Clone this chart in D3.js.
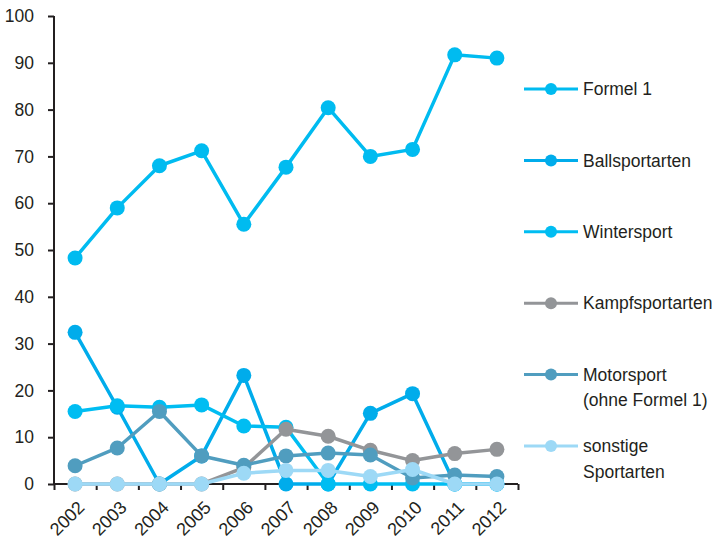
<!DOCTYPE html>
<html>
<head>
<meta charset="utf-8">
<script src="https://cdn.jsdelivr.net/npm/d3@7"></script>
<style>
  body { margin: 0; background: #fff; }
  text { font-family: "Liberation Sans", Arial, sans-serif; fill: #231f20; }
  .axis path, .axis line { stroke: #231f20; stroke-width: 2; }
  .axis text { font-size: 17.5px; }
</style>
</head>
<body>
<div id="chart"></div>
<script>
const years = ['2002', '2003', '2004', '2005', '2006', '2007', '2008', '2009', '2010', '2011', '2012'];
const yTicks = [0, 10, 20, 30, 40, 50, 60, 70, 80, 90, 100];

const seriesNames = ['Formel 1', 'Ballsportarten', 'Wintersport', 'Kampfsportarten', 'Motorsport (ohne Formel 1)', 'sonstige Sportarten'];
const legendLines = [['Formel 1'], ['Ballsportarten'], ['Wintersport'], ['Kampfsportarten'], ['Motorsport', '(ohne Formel 1)'], ['sonstige', 'Sportarten']];
const seriesColors = ['#00bbf0', '#00aceb', '#00bdf2', '#939598', '#509dbf', '#9dd9f6'];

const formel1 = [48.3, 59.0, 68.0, 71.2, 55.5, 67.7, 80.4, 70.0, 71.5, 91.7, 91.0];
const ballsport = [32.4, 16.4, 0, 6.0, 23.2, 0, 0, 15.1, 19.3, 0, 0];
const wintersport = [15.5, 16.7, 16.4, 16.9, 12.4, 12.1, 0, 0, 0, 0, 0];
const kampfsport = [0, 0, 0, 0, 3.5, 11.7, 10.2, 7.2, 5.0, 6.5, 7.4];
const motorsport = [3.9, 7.7, 15.5, 6.0, 4.0, 6.0, 6.6, 6.2, 1.3, 1.9, 1.6];
const sonstige = [0, 0, 0, 0, 2.3, 2.9, 2.9, 1.6, 3.1, 0, 0];

const allValues = [formel1, ballsport, wintersport, kampfsport, motorsport, sonstige];

const width = 714, height = 542;
const margin = { top: 16, right: 196, bottom: 58, left: 54 };

const svg = d3.select('#chart').append('svg')
  .attr('width', width)
  .attr('height', height);

const x = d3.scaleBand().domain(years).range([margin.left, width - margin.right]);
const y = d3.scaleLinear().domain([0, 100]).range([height - margin.bottom, margin.top]);
const cx = (d) => x(d) + x.bandwidth() / 2;

// y axis
svg.append('g')
  .attr('class', 'axis y')
  .attr('transform', `translate(${margin.left},0)`)
  .call(d3.axisLeft(y).tickValues(yTicks).tickSize(6).tickPadding(14))
  .call((g) => g.select('.domain').attr('d', `M0,${y(100)}V${y(0)}`));

// x axis: ticks sit on the band edges
const edges = d3.scaleLinear().domain([0, years.length]).range(x.range());
const xAxis = svg.append('g')
  .attr('class', 'axis x')
  .attr('transform', `translate(0,${y(0)})`)
  .call(d3.axisBottom(edges).tickValues(d3.range(years.length + 1)).tickSize(6).tickFormat(''))
  .call((g) => g.select('.domain').attr('d', `M${x.range()[0]},0H${x.range()[1]}`));

xAxis.selectAll('text.year')
  .data(years)
  .join('text')
  .attr('class', 'year')
  .attr('text-anchor', 'end')
  .style('font-size', '18px')
  .attr('transform', (d) => `translate(${cx(d) + 1},${15}) rotate(-45)`)
  .attr('dy', '0.75em')
  .text((d) => d);

const line = d3.line()
  .x((d, i) => cx(years[i]))
  .y((d) => y(d));

const series = seriesNames.map((name, i) => ({ name, values: allValues[i], color: seriesColors[i] }));

const groups = svg.selectAll('g.series')
  .data(series)
  .join('g')
  .attr('class', 'series');

groups.append('path')
  .attr('fill', 'none')
  .attr('stroke', (d) => d.color)
  .attr('stroke-width', 3.5)
  .attr('stroke-linejoin', 'round')
  .attr('d', (d) => line(d.values));

groups.selectAll('circle')
  .data((d) => d.values.map((v, i) => ({ v, i, color: d.color })))
  .join('circle')
  .attr('cx', (d) => cx(years[d.i]))
  .attr('cy', (d) => y(d.v))
  .attr('r', 7.5)
  .attr('fill', (d) => d.color);

// legend
const legend = svg.append('g').attr('transform', 'translate(524,89)');
const rows = legend.selectAll('g.row')
  .data(series)
  .join('g')
  .attr('class', 'row')
  .attr('transform', (d, i) => `translate(0,${i * 71.4})`);

rows.append('line')
  .attr('x1', 0).attr('x2', 54)
  .attr('stroke', (d) => d.color)
  .attr('stroke-width', 3);

rows.append('circle')
  .attr('cx', 27)
  .attr('r', 6)
  .attr('fill', (d) => d.color);

rows.append('text')
  .attr('x', 59)
  .style('font-size', '17.5px')
  .selectAll('tspan')
  .data((d, i) => legendLines[i])
  .join('tspan')
  .attr('x', 59)
  .attr('dy', (d, j) => j === 0 ? '0.35em' : '1.45em')
  .text((d) => d);
</script>
</body>
</html>
